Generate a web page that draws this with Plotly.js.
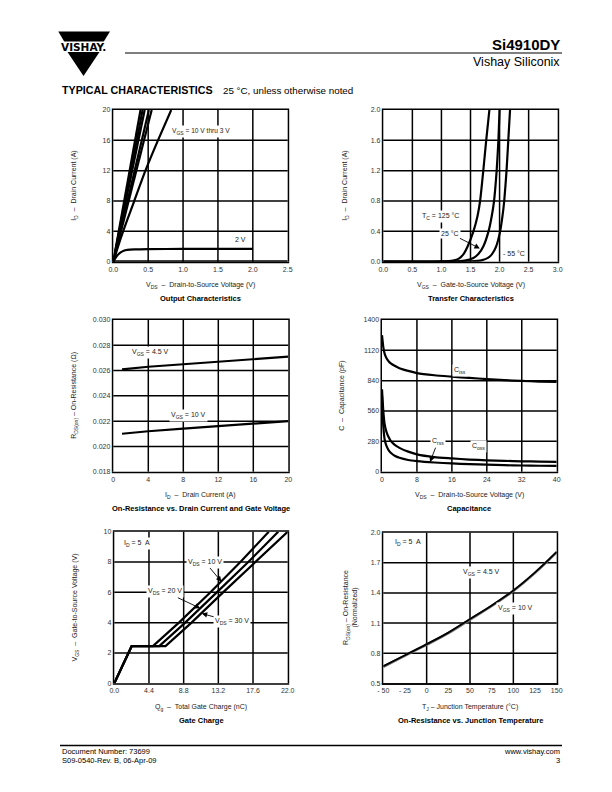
<!DOCTYPE html>
<html><head><meta charset="utf-8">
<script src="https://cdn.plot.ly/plotly-3.0.1.min.js"></script>
<style>html,body{margin:0;padding:0;background:#fff}#chart{width:612px;height:792px}
#chart .crisp{shape-rendering:geometricPrecision !important}</style>
</head><body><div id="chart"></div>
<script>
// ---------- DATA ----------
// Output characteristics (VGS = 10 V thru 3.5 V nearly straight; VDS where ID reaches 20 A)
const outStraightEndVds = [0.39, 0.42, 0.45, 0.51, 0.55];
const out3V_vds = [0, 0.1, 0.2, 0.3, 0.46, 0.64, 0.83];
const out3V_id  = [0, 2.9, 5.5, 8, 12, 16, 20];
const out2V_vds = [0, 0.05, 0.1, 0.15, 0.2, 0.3, 0.5, 1.0, 1.5, 2.0];
const out2V_id  = [0, 0.75, 1.2, 1.45, 1.55, 1.62, 1.66, 1.68, 1.7, 1.7];
const out1V_vds = [0, 2.5];
const out1V_id  = [0.03, 0.03];

// Transfer characteristics
const tr125_vgs = [0, 1.0, 1.2, 1.3, 1.38, 1.45, 1.55, 1.62, 1.665, 1.72, 1.77, 1.825];
const tr125_id  = [0, 0.003, 0.015, 0.04, 0.1, 0.2, 0.4, 0.6, 0.8, 1.2, 1.6, 2.0];
const tr25_vgs  = [0, 1.2, 1.4, 1.55, 1.635, 1.72, 1.81, 1.865, 1.905, 1.95, 1.98, 2.0];
const tr25_id   = [0, 0.003, 0.015, 0.05, 0.1, 0.2, 0.4, 0.6, 0.8, 1.2, 1.6, 2.0];
const trM55_vgs = [0, 1.5, 1.7, 1.8, 1.87, 1.94, 2.01, 2.05, 2.08, 2.12, 2.15, 2.18];
const trM55_id  = [0, 0.003, 0.02, 0.05, 0.1, 0.2, 0.4, 0.6, 0.8, 1.2, 1.6, 2.0];

// On-resistance vs drain current
const ronId   = [1, 4, 8, 12, 16, 20];
const ron4V5  = [0.0261, 0.0263, 0.0265, 0.0267, 0.0269, 0.0271];
const ron10V  = [0.0210, 0.0212, 0.0214, 0.0216, 0.0218, 0.0220];

// Capacitance
const capVds = [0, 0.3, 0.6, 1, 1.5, 2, 3, 4, 6, 8, 12, 16, 20, 24, 28, 32, 36, 40];
const ciss   = [1260, 1150, 1090, 1050, 1020, 1000, 975, 955, 930, 910, 890, 877, 865, 855, 845, 838, 832, 828];
const coss   = [760, 560, 440, 370, 320, 285, 245, 220, 185, 160, 135, 123, 112, 105, 100, 96, 93, 90];
const crss   = [700, 420, 300, 240, 200, 175, 145, 128, 108, 98, 85, 76, 70, 65, 60, 57, 55, 53];

// Gate charge
const qgVgs   = [0, 2.45, 2.45, 4, 6, 8, 10];
const qgVds10 = [0, 2.2, 4.9, 8.2, 12.2, 16.0, 19.6];
const qgVds20 = [0, 2.2, 5.7, 9.0, 13.0, 17.0, 20.8];
const qgVds30 = [0, 2.2, 6.5, 9.8, 13.8, 17.9, 22.0];

// On-resistance vs junction temperature
const tj       = [-50, -25, 0, 25, 50, 75, 100, 125, 150];
const rnorm4V5 = [0.67, 0.78, 0.89, 1.005, 1.14, 1.275, 1.425, 1.605, 1.81];
const rnorm10V = [0.665, 0.775, 0.885, 1.0, 1.135, 1.27, 1.42, 1.60, 1.805];

// Tick labels
const c1xTicks = [0, 0.5, 1.0, 1.5, 2.0, 2.5];
const c1yTicks = [0, 4, 8, 12, 16, 20];
const c2xTicks = [0, 0.5, 1.0, 1.5, 2.0, 2.5, 3.0];
const c2yTicks = [0, 0.4, 0.8, 1.2, 1.6, 2.0];
const c3xTicks = [0, 4, 8, 12, 16, 20];
const c3yTicks = [0.018, 0.020, 0.022, 0.024, 0.026, 0.028, 0.030];
const c4xTicks = [0, 8, 16, 24, 32, 40];
const c4yTicks = [0, 280, 560, 840, 1120, 1400];
const c5xTicks = [0, 4.4, 8.8, 13.2, 17.6, 22.0];
const c5yTicks = [0, 2, 4, 6, 8, 10];
const c6xGridTicks = [-50, 0, 50, 100, 150];
const c6xGridText  = ['- 50', '0', '50', '100', '150'];
const c6xMidTicks  = [-25, 25, 75, 125];
const c6xMidText   = ['- 25', '25', '75', '125'];
const c6yTicks = [0.5, 0.8, 1.1, 1.4, 1.7, 2.0];

// ---------- LAYOUT HELPERS ----------
const W = 612, H = 792;
const P = x => x / W;
const Q = y => 1 - y / H;
const FONT = 'Liberation Sans, Arial, Helvetica, sans-serif';
const BLK = '#000';
// subscript drawn as a smaller, lowered span (avoids empty spacer text nodes)
const sb = t => '<span style="font-size:5px;baseline-shift:-1.6px">' + t + '</span>';

// plot boxes [left, right, top, bottom] in px
const box = {
  1: [113.3, 287.7, 110, 261.7],
  2: [383.3, 557.7, 110, 261.7],
  3: [113.3, 288.3, 320, 471.7],
  4: [382.0, 556.7, 320, 471.7],
  5: [114.3, 287.7, 531.7, 683.3],
  6: [383.3, 556.7, 532.7, 683.3]
};

function ax(i, extra) {
  const base = {
    showline: true, mirror: true, linecolor: BLK, linewidth: 1.5,
    showgrid: true, gridcolor: BLK, gridwidth: 1.5, zeroline: false,
    ticks: '', tickfont: {family: FONT, size: 7, color: '#333'},
    fixedrange: true
  };
  return Object.assign(base, extra);
}

const layout = {
  width: W, height: H, margin: {l: 0, r: 0, t: 0, b: 0},
  paper_bgcolor: '#fff', plot_bgcolor: '#fff', showlegend: false,
  font: {family: FONT, size: 7, color: '#222'},
  xaxis:  ax(1, {domain: [P(box[1][0]), P(box[1][1])], anchor: 'y',  range: [0, 2.5],  tickvals: c1xTicks, tickformat: '.1f'}),
  yaxis:  ax(1, {domain: [Q(box[1][3]), Q(box[1][2])], anchor: 'x',  range: [0, 20],   tickvals: c1yTicks}),
  xaxis2: ax(2, {domain: [P(box[2][0]), P(box[2][1])], anchor: 'y2', range: [0, 3],    tickvals: c2xTicks, tickformat: '.1f'}),
  yaxis2: ax(2, {domain: [Q(box[2][3]), Q(box[2][2])], anchor: 'x2', range: [0, 2],    tickvals: c2yTicks, tickformat: '.1f'}),
  xaxis3: ax(3, {domain: [P(box[3][0]), P(box[3][1])], anchor: 'y3', range: [0, 20],   tickvals: c3xTicks}),
  yaxis3: ax(3, {domain: [Q(box[3][3]), Q(box[3][2])], anchor: 'x3', range: [0.018, 0.030], tickvals: c3yTicks, tickformat: '.3f'}),
  xaxis4: ax(4, {domain: [P(box[4][0]), P(box[4][1])], anchor: 'y4', range: [0, 40],   tickvals: c4xTicks}),
  yaxis4: ax(4, {domain: [Q(box[4][3]), Q(box[4][2])], anchor: 'x4', range: [0, 1400], tickvals: c4yTicks}),
  xaxis5: ax(5, {domain: [P(box[5][0]), P(box[5][1])], anchor: 'y5', range: [0, 22],   tickvals: c5xTicks, tickformat: '.1f'}),
  yaxis5: ax(5, {domain: [Q(box[5][3]), Q(box[5][2])], anchor: 'x5', range: [0, 10],   tickvals: c5yTicks}),
  xaxis6: ax(6, {domain: [P(box[6][0]), P(box[6][1])], anchor: 'y6', range: [-50, 150], tickvals: c6xGridTicks, ticktext: c6xGridText}),
  xaxis7: ax(6, {overlaying: 'x6', anchor: 'y6', side: 'bottom', range: [-50, 150], tickvals: c6xMidTicks, ticktext: c6xMidText, showgrid: false, mirror: false}),
  yaxis6: ax(6, {domain: [Q(box[6][3]), Q(box[6][2])], anchor: 'x6', range: [0.5, 2.0], tickvals: c6yTicks, tickformat: '.1f'}),
  annotations: [], shapes: []
};

// ---------- TRACES ----------
const traces = [];
function line(x, y, xa, ya, opts) {
  traces.push(Object.assign({
    type: 'scatter', mode: 'lines', x: x, y: y, xaxis: xa, yaxis: ya,
    line: {color: BLK, width: 2.2}, hoverinfo: 'skip'
  }, opts || {}));
}
const smooth = {line: {color: BLK, width: 2.2, shape: 'spline', smoothing: 0.6}};

// chart 1
outStraightEndVds.forEach(v => line([0, v], [0, 20], 'x', 'y'));
line(out3V_vds, out3V_id, 'x', 'y', smooth);
line(out2V_vds, out2V_id, 'x', 'y', smooth);
line(out1V_vds, out1V_id, 'x', 'y');
// chart 2
line(tr125_vgs, tr125_id, 'x2', 'y2', smooth);
line(tr25_vgs, tr25_id, 'x2', 'y2', smooth);
line(trM55_vgs, trM55_id, 'x2', 'y2', smooth);
// chart 3
line(ronId, ron4V5, 'x3', 'y3');
line(ronId, ron10V, 'x3', 'y3');
// chart 4
line(capVds, ciss, 'x4', 'y4', smooth);
line(capVds, coss, 'x4', 'y4', smooth);
line(capVds, crss, 'x4', 'y4', smooth);
// chart 5
line(qgVds10, qgVgs, 'x5', 'y5');
line(qgVds20, qgVgs, 'x5', 'y5');
line(qgVds30, qgVgs, 'x5', 'y5');
// chart 6
line(tj, rnorm10V, 'x6', 'y6', {line: {color: '#777', width: 2.6, shape: 'spline'}});
line(tj, rnorm4V5, 'x6', 'y6', {line: {color: BLK, width: 1.8, shape: 'spline'}});
// trace on overlay axis x7 so it is drawn
traces.push({type: 'scatter', mode: 'lines', x: [-50, 150], y: [null, null], xaxis: 'x7', yaxis: 'y6', hoverinfo: 'skip'});

// ---------- ANNOTATIONS ----------
const A = layout.annotations;
function dataLabel(xr, yr, x, y, text, o) {
  A.push(Object.assign({xref: xr, yref: yr, x: x, y: y, text: text, showarrow: false,
    font: {family: FONT, size: 7, color: '#222'}, bgcolor: '#fff', borderpad: 1}, o || {}));
}
function arrowLabel(xr, yr, hx, hy, tx, ty, text) {
  A.push({xref: xr, yref: yr, axref: xr, ayref: yr, x: hx, y: hy, ax: tx, ay: ty, text: text,
    showarrow: true, arrowhead: 2, arrowsize: 1.2, arrowwidth: 0.9, arrowcolor: BLK, standoff: 0,
    font: {family: FONT, size: 7, color: '#222'}, bgcolor: '#fff', borderpad: 1});
}
function paperText(x, y, text, o) {
  A.push(Object.assign({xref: 'paper', yref: 'paper', x: P(x), y: Q(y), text: text, showarrow: false,
    xanchor: 'center', yanchor: 'middle', font: {family: FONT, size: 7, color: '#222'}}, o || {}));
}

// in-chart labels
dataLabel('x', 'y', 0.81, 17.1, 'V' + sb('GS') + ' = 10 V thru 3 V', {xanchor: 'left', font: {family: FONT, size: 6.6, color: '#222'}});
dataLabel('x', 'y', 1.82, 2.95, '2 V');
dataLabel('x2', 'y2', 0.99, 0.593, 'T' + sb('C') + ' = 125 °C');
arrowLabel('x2', 'y2', 1.66, 0.175, 1.15, 0.374, '25 °C');
dataLabel('x2', 'y2', 2.25, 0.11, '- 55 °C');
dataLabel('x3', 'y3', 4.2, 0.02741, 'V' + sb('GS') + ' = 4.5 V');
dataLabel('x3', 'y3', 8.55, 0.02243, 'V' + sb('GS') + ' = 10 V');
dataLabel('x4', 'y4', 17.9, 932, 'C' + sb('iss'));
dataLabel('x4', 'y4', 22.2, 228, 'C' + sb('oss'));
arrowLabel('x4', 'y4', 11, 90, 12.8, 277, 'C' + sb('rss'));
dataLabel('x5', 'y5', 1.0, 9.2, 'I' + sb('D') + ' = 5  A', {xanchor: 'left'});
arrowLabel('x5', 'y5', 13.6, 6.7, 11.5, 8.0, 'V' + sb('DS') + ' = 10 V');
arrowLabel('x5', 'y5', 10.9, 4.95, 6.45, 6.04, 'V' + sb('DS') + ' = 20 V');
arrowLabel('x5', 'y5', 11.1, 4.6, 14.95, 4.06, 'V' + sb('DS') + ' = 30 V');
dataLabel('x6', 'y6', -38.5, 1.90, 'I' + sb('D') + ' = 5  A', {xanchor: 'left'});
dataLabel('x6', 'y6', 63.8, 1.60, 'V' + sb('GS') + ' = 4.5 V');
dataLabel('x6', 'y6', 103, 1.25, 'V' + sb('GS') + ' = 10 V');

// axis titles and chart captions
const xTitles = {
  1: 'V' + sb('DS') + '  –  Drain-to-Source Voltage (V)',
  2: 'V' + sb('GS') + '  –  Gate-to-Source Voltage (V)',
  3: 'I' + sb('D') + '  –  Drain Current (A)',
  4: 'V' + sb('DS') + '  –  Drain-to-Source Voltage (V)',
  5: 'Q' + sb('g') + '  –  Total Gate Charge (nC)',
  6: 'T' + sb('J') + ' – Junction Temperature (°C)'
};
const yTitles = {
  1: 'I' + sb('D') + '  –  Drain Current (A)',
  2: 'I' + sb('D') + '  –  Drain Current (A)',
  3: 'R' + sb('DS(on)') + ' – On-Resistance (Ω)',
  4: 'C  –  Capacitance (pF)',
  5: 'V' + sb('GS') + '  –  Gate-to-Source Voltage (V)',
  6: 'R' + sb('DS(on)') + ' – On-Resistance<br>(Normalized)'
};
const captions = {
  1: 'Output Characteristics',
  2: 'Transfer Characteristics',
  3: 'On-Resistance vs. Drain Current and Gate Voltage',
  4: 'Capacitance',
  5: 'Gate Charge',
  6: 'On-Resistance vs. Junction Temperature'
};
const yTitleX = {1: 75, 2: 346, 3: 75, 4: 342, 5: 75, 6: 350};
for (let i = 1; i <= 6; i++) {
  const b = box[i];
  const cx = (b[0] + b[1]) / 2, cy = (b[2] + b[3]) / 2;
  paperText(cx, b[3] + 24, xTitles[i]);
  paperText(cx, b[3] + 37, '<b>' + captions[i] + '</b>', {font: {family: FONT, size: 7.5, color: '#000'}});
  paperText(yTitleX[i], cy, yTitles[i], {textangle: -90});
}

// header & footer texts
paperText(562, 44, '<b>Si4910DY</b>', {xanchor: 'right', font: {family: FONT, size: 15, color: '#000'}});
paperText(562, 62, 'Vishay Siliconix', {xanchor: 'right', font: {family: FONT, size: 12.5, color: '#000'}});
paperText(60, 90, '<b>TYPICAL CHARACTERISTICS</b>', {xanchor: 'left', font: {family: FONT, size: 10.7, color: '#000'}});
paperText(221, 90, '25 °C, unless otherwise noted', {xanchor: 'left', font: {family: FONT, size: 9.8, color: '#000'}});
paperText(83.5, 47.3, '<b>VISHAY.</b>', {font: {family: 'DejaVu Sans, Liberation Sans, sans-serif', size: 10.5, color: '#000'}});
paperText(60, 751, 'Document Number: 73699', {xanchor: 'left', font: {family: FONT, size: 7.5, color: '#000'}});
paperText(60, 760, 'S09-0540-Rev. B, 06-Apr-09', {xanchor: 'left', font: {family: FONT, size: 7.5, color: '#000'}});
paperText(562, 751, 'www.vishay.com', {xanchor: 'right', font: {family: FONT, size: 7.5, color: '#000'}});
paperText(562, 760, '3', {xanchor: 'right', font: {family: FONT, size: 7.5, color: '#000'}});

// shapes: header rule, footer rule, logo
const S = layout.shapes;
function pathPx(pts) {
  return 'M ' + pts.map(p => P(p[0]).toFixed(5) + ' ' + Q(p[1]).toFixed(5)).join(' L ') + ' Z';
}
S.push({type: 'line', xref: 'paper', yref: 'paper', x0: P(125), x1: P(562), y0: Q(53), y1: Q(53), line: {color: BLK, width: 1.2}});
S.push({type: 'line', xref: 'paper', yref: 'paper', x0: P(60), x1: P(562), y0: Q(745.5), y1: Q(745.5), line: {color: BLK, width: 1.3}});
S.push({type: 'path', xref: 'paper', yref: 'paper', path: pathPx([[58.3, 31.5], [110, 31.5], [103.8, 41.5], [64.2, 41.5]]), fillcolor: BLK, line: {width: 0}});
S.push({type: 'path', xref: 'paper', yref: 'paper', path: pathPx([[67.5, 52], [99.5, 52], [83.5, 76]]), fillcolor: BLK, line: {width: 0}});

Plotly.newPlot('chart', traces, layout, {staticPlot: true, displayModeBar: false});
</script></body></html>
